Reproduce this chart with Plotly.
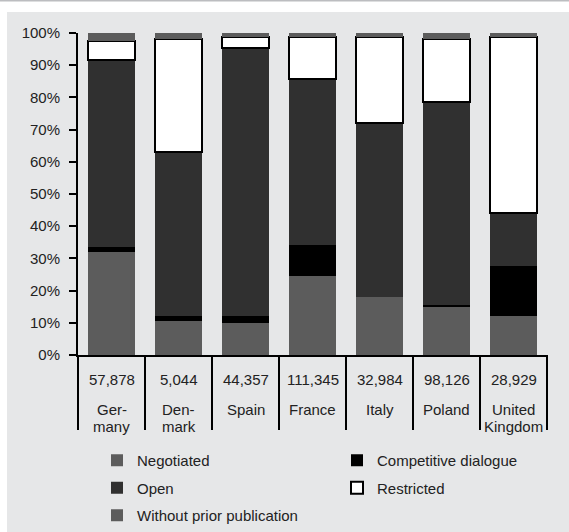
import plotly.graph_objects as go

countries = ["Germany", "Denmark", "Spain", "France", "Italy", "Poland", "United Kingdom"]
country_labels = ["Ger-<br>many", "Den-<br>mark", "Spain", "France", "Italy", "Poland", "United<br>Kingdom"]
counts = ["57,878", "5,044", "44,357", "111,345", "32,984", "98,126", "28,929"]

negotiated = [32.1, 10.7, 9.9, 24.6, 17.9, 15.2, 12.1]
competitive = [1.4, 1.4, 2.2, 9.6, 0.0, 0.4, 15.4]
open_ = [58.2, 50.9, 83.2, 51.6, 54.1, 62.9, 16.5]
restricted = [5.7, 35.2, 3.6, 13.1, 26.8, 19.7, 54.8]
without_prior = [2.6, 1.8, 1.1, 1.1, 1.2, 1.8, 1.2]

y_ticks = [0, 10, 20, 30, 40, 50, 60, 70, 80, 90, 100]
y_tick_labels = ["0%", "10%", "20%", "30%", "40%", "50%", "60%", "70%", "80%", "90%", "100%"]

FONT = "Liberation Sans, Arial, sans-serif"
W, H = 569, 532
ML, MR, MT, MB = 78, 22, 33, 177
PW, PH = W - ML - MR, H - MT - MB


def px(p):
    return (p - ML) / PW


def py(p):
    return (H - MB - p) / PH


series = [
    ("Negotiated", negotiated, "#5c5c5c", "legend", 0, None),
    ("Competitive dialogue", competitive, "#000000", "legend2", 0, None),
    ("Open", open_, "#303030", "legend", 0, None),
    ("Restricted", restricted, "#ffffff", "legend2", 2, "#000000"),
    ("Without prior publication", without_prior, "#5c5c5c", "legend", 0, None),
]

fig = go.Figure()
for name, vals, color, leg, lw, lc in series:
    fig.add_trace(go.Bar(
        x=countries, y=vals, name=name, legend=leg, legendgroup=name,
        marker=dict(color=color, line=dict(width=lw, color=lc or color)),
        hoverinfo="skip",
    ))

shapes = [
    dict(type="rect", xref="paper", yref="paper", x0=px(7), x1=px(W + 2), y0=py(H + 2), y1=py(12),
         fillcolor="#e6e7e8", line=dict(width=0), layer="below"),
    dict(type="line", xref="paper", yref="paper", x0=px(-2), x1=px(W + 2), y0=py(0.8), y1=py(0.8),
         line=dict(color="#bcbdc0", width=1.5)),
]
for i in range(len(countries) + 1):
    shapes.append(dict(type="line", xref="x domain", yref="paper", x0=i / len(countries), x1=i / len(countries),
                       y0=0, y1=py(430), line=dict(color="#000000", width=2)))

annotations = []
for c, cnt, lab in zip(countries, counts, country_labels):
    annotations.append(dict(x=c, xref="x", y=py(379), yref="paper", text=cnt, showarrow=False,
                            xanchor="center", yanchor="middle", font=dict(family=FONT, size=15, color="#222")))
    for j, line in enumerate(lab.split("<br>")):
        annotations.append(dict(x=c, xref="x", y=py(409 + 17 * j), yref="paper", text=line, showarrow=False,
                                xanchor="center", yanchor="middle", font=dict(family=FONT, size=15, color="#222")))

leg_common = dict(orientation="v", bgcolor="rgba(0,0,0,0)", borderwidth=0, traceorder="grouped",
                  tracegroupgap=5, font=dict(family=FONT, size=15, color="#222"),
                  xanchor="left", yanchor="top")

fig.update_layout(
    width=W, height=H,
    margin=dict(l=ML, r=MR, t=MT, b=MB, pad=0, autoexpand=False),
    paper_bgcolor="#ffffff", plot_bgcolor="rgba(0,0,0,0)",
    barmode="stack", bargap=0.3,
    font=dict(family=FONT, size=15, color="#222"),
    xaxis=dict(range=[-0.5, 6.5], showticklabels=False, ticks="", showline=True, linewidth=2,
               linecolor="#000", showgrid=False, zeroline=False, fixedrange=True, automargin=False),
    yaxis=dict(range=[0, 100], tickmode="array", tickvals=y_ticks, ticktext=y_tick_labels,
               ticks="outside", ticklen=7, tickwidth=2, automargin=False,
               tickcolor="#000", showline=True, linewidth=2, linecolor="#000", showgrid=False,
               zeroline=False, tickfont=dict(family=FONT, size=15, color="#222"), ticklabelstandoff=6),
    legend=dict(x=px(97), y=py(444), **leg_common),
    legend2=dict(x=px(337), y=py(444), **leg_common),
    shapes=shapes,
    annotations=annotations,
    showlegend=True,
)

fig.write_html(
    "out.html",
    config={"displayModeBar": False},
    post_script="document.body.style.margin='0';document.body.style.overflow='hidden';",
)
